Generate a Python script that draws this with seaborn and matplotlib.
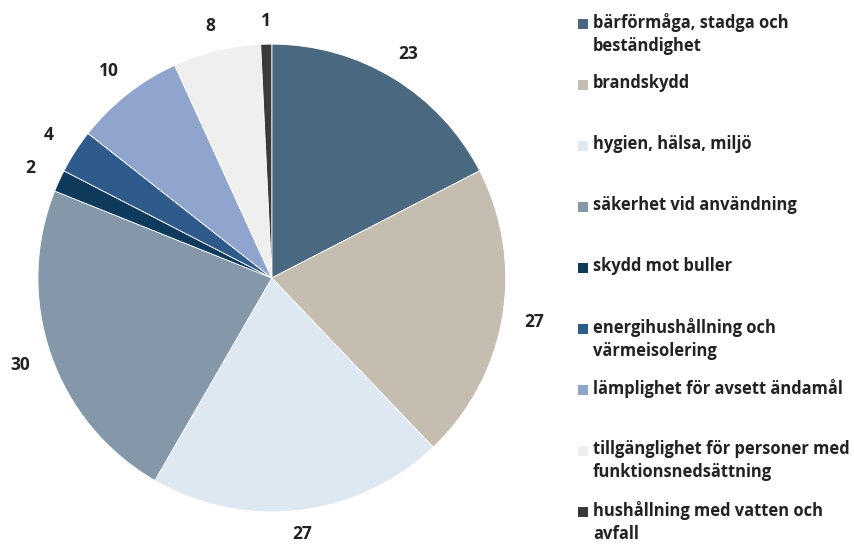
import matplotlib
matplotlib.use("Agg")
import numpy as np
import matplotlib.pyplot as plt
from matplotlib.patches import Rectangle
import seaborn as sns

# Chart data
categories = [
    "bärförmåga, stadga och\nbeständighet",
    "brandskydd",
    "hygien, hälsa, miljö",
    "säkerhet vid användning",
    "skydd mot buller",
    "energihushållning och\nvärmeisolering",
    "lämplighet för avsett ändamål",
    "tillgänglighet för personer med\nfunktionsnedsättning",
    "hushållning med vatten och\navfall",
]
counts = [23, 27, 27, 30, 2, 4, 10, 8, 1]
colors = ["#4A6880", "#C4BDB0", "#DEE8F3", "#8498A9", "#0F3A5C",
          "#2F5A8C", "#8FA5CD", "#EFEFEF", "#3A3A3A"]

sns.set_theme(style="white")
plt.rcParams["font.family"] = ["Open Sans", "DejaVu Sans"]

fig = plt.figure(figsize=(8.55, 5.45), dpi=100)
ax = fig.add_axes([0.0444, 0.0606, 0.547, 0.8587])

wedges, texts = ax.pie(
    counts,
    colors=colors,
    startangle=90,
    counterclock=False,
    labels=[str(c) for c in counts],
    labeldistance=1.1,
    wedgeprops=dict(edgecolor="white", linewidth=0.6),
    textprops=dict(fontsize=12.5, fontweight="bold", color="#222222"),
)
# labels pushed out a bit more on the sides (text width), like Excel
for w, t in zip(wedges, texts):
    ang = np.deg2rad((w.theta1 + w.theta2) / 2)
    r = 1.10 + 0.04 * abs(np.cos(ang))
    t.set_position((r * np.cos(ang), r * np.sin(ang)))
    t.set_ha("center")
    t.set_va("center")
ax.set_xlim(-1, 1)
ax.set_ylim(-1, 1)
ax.set_aspect("equal")
ax.axis("off")

# Legend with fixed slot height per entry (first line aligned)
x_box = 578 / 855
x_txt = 593 / 855
y0 = 24
step = 61
for i, (lab, col) in enumerate(zip(categories, colors)):
    yc = y0 + i * step
    fig.patches.append(Rectangle((x_box, 1 - (yc + 5) / 545), 10 / 855, 10 / 545,
                                 transform=fig.transFigure, facecolor=col,
                                 edgecolor="none"))
    fig.text(x_txt, 1 - (yc - 11) / 545, lab, ha="left", va="top",
             fontsize=11.9, fontweight="bold", color="#222222",
             linespacing=1.35)

fig.savefig("out.png", dpi=100)
